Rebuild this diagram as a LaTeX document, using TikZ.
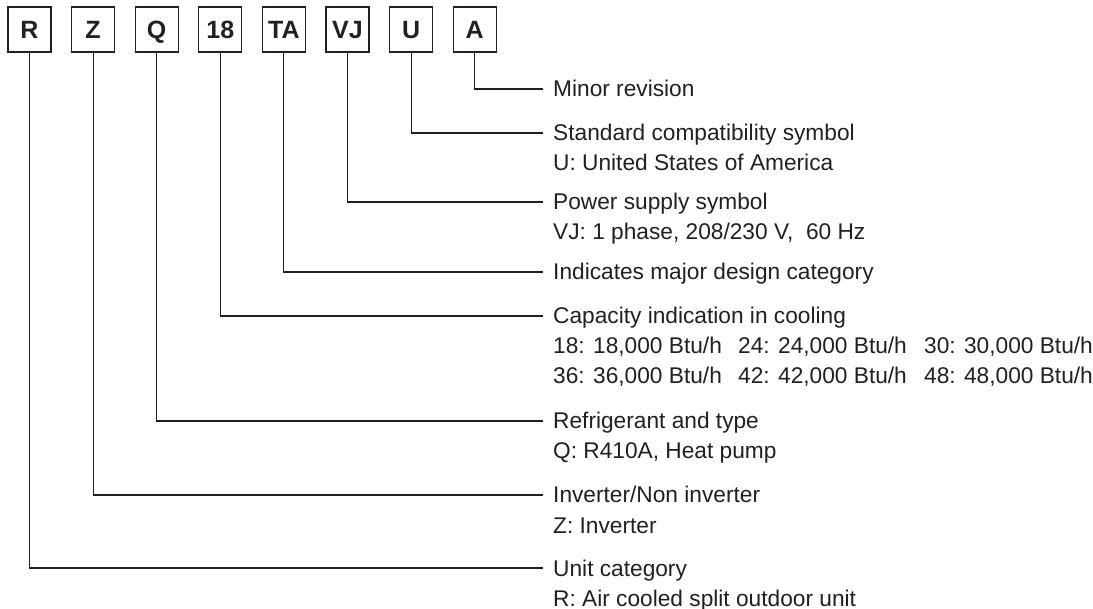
\documentclass[tikz,border=0pt]{standalone}
\usepackage{fontspec}
\setmainfont{Liberation Sans}
\usepackage{tikz}
\usetikzlibrary{positioning, calc}
\definecolor{inkgray}{RGB}{35,31,32}
\tikzset{
  codebox/.style={draw=inkgray, line width=1.3pt, minimum width=43pt, minimum height=45pt,
                  inner sep=0pt, text height=17.9pt, text depth=0pt,
                  font=\fontsize{25}{25}\selectfont\bfseries, text=inkgray},
  desc/.style={anchor=base west, inner sep=0pt, font=\fontsize{22.7}{30}\selectfont, text=inkgray},
  lead/.style={draw=inkgray, line width=1.1pt},
}

\begin{document}
\begin{tikzpicture}[x=1pt, y=-1pt]
\useasboundingbox (0,0) rectangle (1093,609);
% model code boxes
\foreach \c [count=\i] in {R, Z, Q, 18, TA, VJ, U, A}
  \node[codebox] (b\c) at ({29.5+63.6*(\i-1)},29.5) {\c};

% descriptions (baseline = line height + 8)
\node[desc] (tA) at (553,97) {Minor revision};
\node[desc] (tU) at (553,141) {Standard compatibility symbol};
\node[desc] (sU) at (553,171) {U: United States of America};
\node[desc] (tVJ) at (553,210) {Power supply symbol};
\node[desc] (sVJ) at (553,240) {VJ: 1 phase, 208/230 V,\ \ 60 Hz};
\node[desc] (tTA) at (553,280) {Indicates major design category};
\node[desc] (t18) at (553,324) {Capacity indication in cooling};
\node[desc] (s18a) at (553,354) {\makebox[185pt][l]{18: 18,000 Btu/h}\makebox[186pt][l]{24: 24,000 Btu/h}30: 30,000 Btu/h};
\node[desc] (s18b) at (553,384) {\makebox[185pt][l]{36: 36,000 Btu/h}\makebox[186pt][l]{42: 42,000 Btu/h}48: 48,000 Btu/h};
\node[desc] (tQ) at (553,429) {Refrigerant and type};
\node[desc] (sQ) at (553,459) {Q: R410A, Heat pump};
\node[desc] (tZ) at (553,503) {Inverter/Non inverter};
\node[desc] (sZ) at (553,533) {Z: Inverter};
\node[desc] (tR) at (553,576) {Unit category};
\node[desc] (sR) at (553,606) {R: Air cooled split outdoor unit};

% leader lines
\foreach \c in {R, Z, Q, 18, TA, VJ, U, A}
  \draw[lead] (b\c.south) |- ([xshift=-10pt, yshift=8pt]t\c.base west);
\end{tikzpicture}
\end{document}
